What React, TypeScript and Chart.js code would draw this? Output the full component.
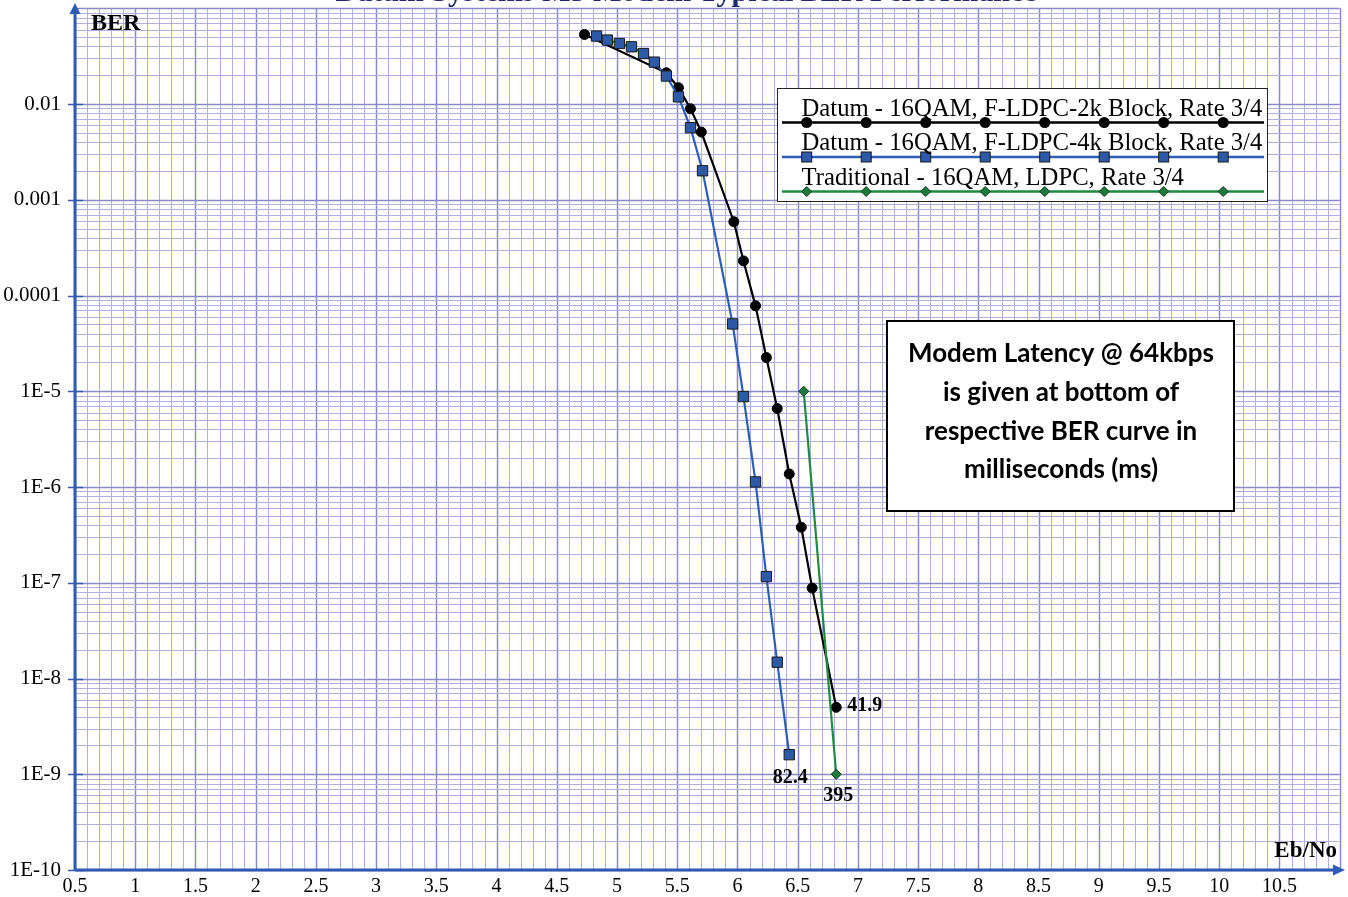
import React, { useEffect, useRef } from "react";
import { Chart, registerables } from "chart.js";

Chart.register(...registerables);

// ---------- data ----------
const chartTitle = "Datum Systems M5 Modem Typical BER Performance";
const xAxisTitle = "Eb/No";
const yAxisTitle = "BER";

const xTickValues = [0.5, 1, 1.5, 2, 2.5, 3, 3.5, 4, 4.5, 5, 5.5, 6, 6.5, 7, 7.5, 8, 8.5, 9, 9.5, 10, 10.5];
const yTickValues = [1e-10, 1e-9, 1e-8, 1e-7, 1e-6, 1e-5, 1e-4, 1e-3, 1e-2];
const yTickLabels = ["1E-10", "1E-9", "1E-8", "1E-7", "1E-6", "1E-5", "0.0001", "0.001", "0.01"];

const seriesNames = [
  "Datum - 16QAM, F-LDPC-2k Block, Rate 3/4",
  "Datum - 16QAM, F-LDPC-4k Block, Rate 3/4",
  "Traditional - 16QAM, LDPC, Rate 3/4",
];

const ldpc2kEbNo = [4.73, 5.41, 5.51, 5.61, 5.70, 5.97, 6.05, 6.15, 6.24, 6.33, 6.43, 6.53, 6.62, 6.82];
const ldpc2kBer = [0.0533, 0.0212, 0.0148, 0.00893, 0.0051, 5.9e-4, 2.3e-4, 7.8e-5, 2.25e-5, 6.6e-6, 1.37e-6, 3.8e-7, 8.8e-8, 5e-9];

const ldpc4kEbNo = [4.83, 4.92, 5.02, 5.12, 5.22, 5.31, 5.41, 5.51, 5.61, 5.71, 5.96, 6.05, 6.15, 6.24, 6.33, 6.43];
const ldpc4kBer = [0.0513, 0.0466, 0.0429, 0.0396, 0.0337, 0.0274, 0.0196, 0.0119, 0.00566, 0.00201, 5.05e-5, 8.8e-6, 1.13e-6, 1.16e-7, 1.48e-8, 1.6e-9];

const tradEbNo = [6.55, 6.82];
const tradBer = [1e-5, 1e-9];

const latencyLabels = ["41.9", "82.4", "395"];

const noteLines = [
  "Modem Latency @ 64kbps",
  "is given at bottom of",
  "respective BER curve in",
  "milliseconds (ms)",
];

// ---------- styles ----------
const BLACK = "#000000";
const BLUE = "#2f5db5";
const BLUE_FILL = "#2c5aa8";
const GREEN = "#1e8a44";
const GREEN_FILL = "#1b7a3c";
const AXIS_BLUE = "#2f5bb4";
const GRID_MINOR = "#b0b0de";
const GRID_MAJOR = "#8a8ac8";
const SERIF = "'Liberation Serif', 'Times New Roman', serif";

function drawMarker(ctx: CanvasRenderingContext2D, kind: string, x: number, y: number) {
  ctx.save();
  if (kind === "circle") {
    ctx.fillStyle = BLACK;
    ctx.beginPath();
    ctx.arc(x, y, 5.5, 0, Math.PI * 2);
    ctx.fill();
  } else if (kind === "rect") {
    ctx.fillStyle = BLUE_FILL;
    ctx.strokeStyle = "#1a1a1a";
    ctx.lineWidth = 1;
    ctx.fillRect(x - 5, y - 5, 10, 10);
    ctx.strokeRect(x - 5, y - 5, 10, 10);
  } else {
    ctx.fillStyle = GREEN_FILL;
    ctx.strokeStyle = "#0d3a1c";
    ctx.lineWidth = 1;
    ctx.beginPath();
    ctx.moveTo(x, y - 5);
    ctx.lineTo(x + 5, y);
    ctx.lineTo(x, y + 5);
    ctx.lineTo(x - 5, y);
    ctx.closePath();
    ctx.fill();
    ctx.stroke();
  }
  ctx.restore();
}

const gridPlugin = {
  id: "paperGrid",
  beforeDatasetsDraw(chart: any) {
    const { ctx, chartArea: a, scales } = chart;
    const x = scales.x;
    const y = scales.y;
    ctx.save();
    for (let k = 0; k <= 105; k++) {
      const v = 0.5 + k * 0.1;
      const px = Math.round(x.getPixelForValue(v)) + 0.5;
      if (px < a.left || px > a.right + 1) continue;
      const major = k % 5 === 0;
      ctx.strokeStyle = major ? GRID_MAJOR : GRID_MINOR;
      ctx.lineWidth = major ? 1.5 : 1;
      ctx.beginPath();
      ctx.moveTo(px, a.top);
      ctx.lineTo(px, a.bottom);
      ctx.stroke();
    }
    for (let e = -10; e <= -1; e++) {
      for (let m = 1; m <= 9; m++) {
        const v = m * Math.pow(10, e);
        if (v > 0.1000001) continue;
        const py = Math.round(y.getPixelForValue(v)) + 0.5;
        const major = m === 1;
        ctx.strokeStyle = major ? GRID_MAJOR : GRID_MINOR;
        ctx.lineWidth = major ? 1.5 : 1;
        ctx.beginPath();
        ctx.moveTo(a.left, py);
        ctx.lineTo(a.right, py);
        ctx.stroke();
      }
    }
    ctx.restore();
  },
};

const decorPlugin = {
  id: "decor",
  afterDraw(chart: any) {
    const { ctx, chartArea: a, scales } = chart;
    const y = scales.y;
    ctx.save();

    // title (clipped at top)
    ctx.fillStyle = "#1f2a6b";
    ctx.font = `bold 30px ${SERIF}`;
    ctx.textAlign = "center";
    ctx.textBaseline = "alphabetic";
    ctx.fillText(chartTitle, 686, 1);

    // axes
    ctx.strokeStyle = AXIS_BLUE;
    ctx.fillStyle = AXIS_BLUE;
    ctx.lineWidth = 3;
    ctx.beginPath();
    ctx.moveTo(a.left, a.bottom);
    ctx.lineTo(a.left, 12);
    ctx.stroke();
    ctx.beginPath();
    ctx.moveTo(a.left, 3);
    ctx.lineTo(a.left + 5.5, 14);
    ctx.lineTo(a.left - 5.5, 14);
    ctx.closePath();
    ctx.fill();
    ctx.beginPath();
    ctx.moveTo(a.left, a.bottom);
    ctx.lineTo(1336, a.bottom);
    ctx.stroke();
    ctx.beginPath();
    ctx.moveTo(1345, a.bottom);
    ctx.lineTo(1333, a.bottom - 5.5);
    ctx.lineTo(1333, a.bottom + 5.5);
    ctx.closePath();
    ctx.fill();
    ctx.lineWidth = 1.5;
    yTickValues.forEach((v) => {
      const py = Math.round(y.getPixelForValue(v)) + 0.5;
      ctx.beginPath();
      ctx.moveTo(a.left - 7, py);
      ctx.lineTo(a.left + 8, py);
      ctx.stroke();
    });

    // axis titles
    ctx.fillStyle = BLACK;
    ctx.font = `bold 24px ${SERIF}`;
    ctx.textAlign = "left";
    ctx.fillText(yAxisTitle, 91, 30);
    ctx.font = `bold 23px ${SERIF}`;
    ctx.textAlign = "right";
    ctx.fillText(xAxisTitle, 1337, 857);

    // legend
    const lx0 = 777, ly0 = 88, lx1 = 1267, ly1 = 201;
    ctx.fillStyle = "#ffffff";
    ctx.fillRect(lx0, ly0, lx1 - lx0, ly1 - ly0);
    ctx.strokeStyle = "#222";
    ctx.lineWidth = 1;
    ctx.strokeRect(lx0 + 0.5, ly0 + 0.5, lx1 - lx0, ly1 - ly0);
    ctx.font = `23px ${SERIF}`;
    const w0 = ctx.measureText(seriesNames[0]).width;
    const fs = (23 * 461) / w0;
    ctx.font = `${fs.toFixed(2)}px ${SERIF}`;
    const rows = [
      { baseline: 116, line: 122.5, color: BLACK, width: 2.5, kind: "circle" },
      { baseline: 150, line: 157, color: BLUE, width: 2.5, kind: "rect" },
      { baseline: 185, line: 191.5, color: GREEN, width: 2.5, kind: "diamond" },
    ];
    rows.forEach((r, i) => {
      ctx.strokeStyle = r.color;
      ctx.lineWidth = r.width;
      ctx.beginPath();
      ctx.moveTo(782, r.line);
      ctx.lineTo(1264, r.line);
      ctx.stroke();
      for (let k = 0; k < 8; k++) drawMarker(ctx, r.kind, 806.7 + k * 59.5, r.line);
      ctx.fillStyle = BLACK;
      ctx.textAlign = "left";
      ctx.fillText(seriesNames[i], 801.5, r.baseline);
    });

    // note box
    const bx0 = 887, by0 = 321, bx1 = 1234, by1 = 511;
    ctx.fillStyle = "#ffffff";
    ctx.fillRect(bx0, by0, bx1 - bx0, by1 - by0);
    ctx.strokeStyle = "#000";
    ctx.lineWidth = 2;
    ctx.strokeRect(bx0, by0, bx1 - bx0, by1 - by0);
    ctx.font = `bold 26px Lato, 'Open Sans', sans-serif`;
    const nw = ctx.measureText(noteLines[0]).width;
    const nfs = (26 * 306) / nw;
    ctx.font = `bold ${nfs.toFixed(2)}px Lato, 'Open Sans', sans-serif`;
    ctx.fillStyle = BLACK;
    ctx.textAlign = "center";
    const baselines = [362, 401, 440, 478];
    noteLines.forEach((t, i) => ctx.fillText(t, 1061, baselines[i]));

    // latency labels
    ctx.font = `bold 20px ${SERIF}`;
    ctx.fillStyle = BLACK;
    ctx.textBaseline = "middle";
    const last = (i: number) => {
      const d = chart.getDatasetMeta(i).data;
      return d[d.length - 1];
    };
    const p0 = last(0), p1 = last(1), p2 = last(2);
    ctx.textAlign = "left";
    ctx.fillText(latencyLabels[0], p0.x + 11, p0.y - 2);
    ctx.textAlign = "center";
    ctx.fillText(latencyLabels[1], p1.x + 1, p1.y + 23);
    ctx.fillText(latencyLabels[2], p2.x + 2, p2.y + 22);

    ctx.restore();
  },
};

export default function App() {
  const ref = useRef<HTMLCanvasElement | null>(null);

  useEffect(() => {
    if (!ref.current) return;
    const chart = new Chart(ref.current, {
      type: "line",
      data: {
        datasets: [
          {
            label: seriesNames[0],
            data: ldpc2kEbNo.map((x, i) => ({ x, y: ldpc2kBer[i] })),
            borderColor: BLACK,
            backgroundColor: BLACK,
            borderWidth: 2.2,
            pointStyle: "circle",
            pointRadius: 5,
            pointBackgroundColor: BLACK,
            pointBorderColor: BLACK,
            pointBorderWidth: 1,
            order: 3,
          },
          {
            label: seriesNames[1],
            data: ldpc4kEbNo.map((x, i) => ({ x, y: ldpc4kBer[i] })),
            borderColor: BLUE,
            backgroundColor: BLUE_FILL,
            borderWidth: 2.2,
            pointStyle: "rect",
            pointRadius: 7.3,
            pointBackgroundColor: BLUE_FILL,
            pointBorderColor: "#1a1a1a",
            pointBorderWidth: 1,
            order: 2,
          },
          {
            label: seriesNames[2],
            data: tradEbNo.map((x, i) => ({ x, y: tradBer[i] })),
            borderColor: GREEN,
            backgroundColor: GREEN_FILL,
            borderWidth: 2.2,
            pointStyle: "rectRot",
            pointRadius: 5,
            pointBackgroundColor: GREEN_FILL,
            pointBorderColor: "#0d3a1c",
            pointBorderWidth: 1,
            order: 1,
          },
        ],
      },
      options: {
        animation: false,
        responsive: false,
        maintainAspectRatio: false,
        layout: { padding: { top: 5, right: 3, left: 0, bottom: 0 } },
        elements: { line: { tension: 0 } },
        plugins: { legend: { display: false }, tooltip: { enabled: false }, title: { display: false } },
        scales: {
          x: {
            type: "linear",
            min: 0.5,
            max: 11,
            afterFit: (s: any) => {
              s.height = 27;
              s.paddingLeft = 0;
              s.paddingRight = 0;
            },
            afterBuildTicks: (s: any) => {
              s.ticks = xTickValues.map((v) => ({ value: v }));
            },
            grid: { display: false, drawTicks: false },
            border: { display: false },
            ticks: {
              autoSkip: false,
              maxRotation: 0,
              padding: 5,
              color: BLACK,
              font: { family: "Liberation Serif", size: 20 },
              callback: (v: any) => String(v),
            },
          },
          y: {
            type: "logarithmic",
            min: 1e-10,
            max: 0.1,
            afterFit: (s: any) => {
              s.width = 75;
              s.paddingTop = 0;
              s.paddingBottom = 0;
            },
            afterBuildTicks: (s: any) => {
              s.ticks = yTickValues.map((v) => ({ value: v }));
            },
            grid: { display: false, drawTicks: false },
            border: { display: false },
            ticks: {
              autoSkip: false,
              padding: 14,
              color: BLACK,
              font: { family: "Liberation Serif", size: 21 },
              callback: (v: any) => {
                const idx = yTickValues.findIndex((t) => Math.abs(t - v) / t < 1e-6);
                return idx >= 0 ? yTickLabels[idx] : "";
              },
            },
          },
        },
      },
      plugins: [gridPlugin, decorPlugin],
    });
    return () => chart.destroy();
  }, []);

  return (
    <div style={{ position: "absolute", left: 0, top: 0, width: 1348, height: 897, background: "#fff" }}>
      <canvas ref={ref} width={1348} height={897} style={{ width: 1348, height: 897, display: "block" }} />
    </div>
  );
}
